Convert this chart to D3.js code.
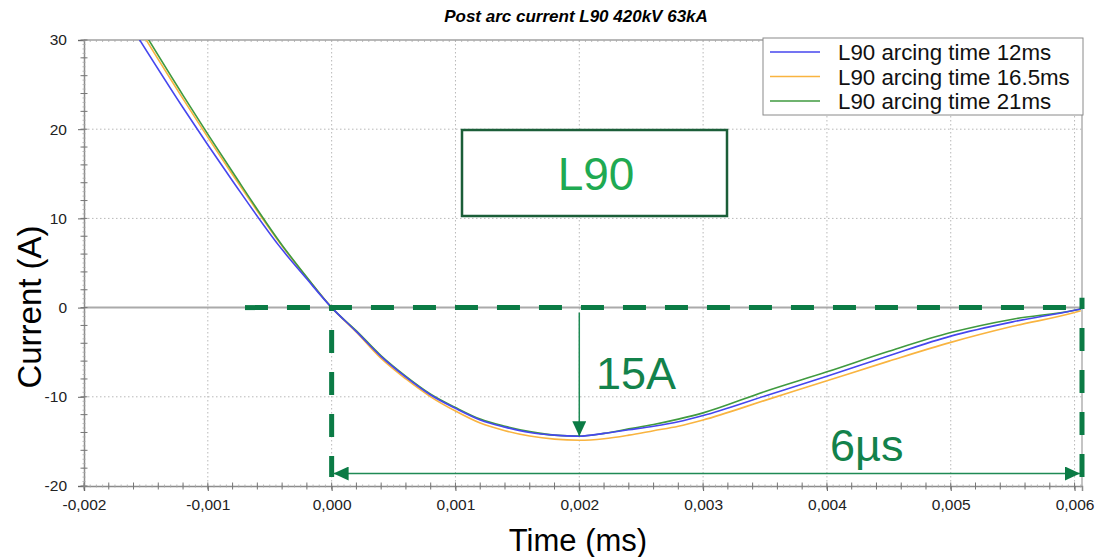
<!DOCTYPE html>
<html>
<head>
<meta charset="utf-8">
<script src="https://cdnjs.cloudflare.com/ajax/libs/d3/7.8.5/d3.min.js"></script>
<style>
  body { margin: 0; background: #fff; }
  svg { font-family: "Liberation Sans", Arial, sans-serif; display: block; }
</style>
</head>
<body>
<div id="chart"></div>
<script>
// svg size
var svgWidth = 1098;
var svgHeight = 557;

var margin = { top: 40, right: 16, bottom: 71, left: 84 };
var width = svgWidth - margin.left - margin.right;
var height = svgHeight - margin.top - margin.bottom;

// data
var timeMs = [-0.0016, -0.0012, -0.0008, -0.0004, -0.0002, 0, 0.0002, 0.0004, 0.0006, 0.0008,
  0.001, 0.0012, 0.0014, 0.0016, 0.0018, 0.002, 0.0022, 0.0024, 0.0026, 0.0028,
  0.003, 0.0035, 0.004, 0.0045, 0.005, 0.0055, 0.006, 0.00605];
var arc12 = [31.1, 22.4, 14.2, 6.5, 3.2, 0, -2.7, -5.5, -7.8, -9.8,
  -11.3, -12.6, -13.4, -14.0, -14.3, -14.42, -14.1, -13.7, -13.3, -12.8,
  -12.1, -9.9, -7.7, -5.4, -3.2, -1.6, -0.3, -0.15];
var arc165 = [32.3, 23.4, 14.9, 6.9, 3.35, 0, -2.75, -5.7, -8.0, -10.0,
  -11.6, -12.95, -13.8, -14.4, -14.75, -14.87, -14.7, -14.3, -13.8, -13.3,
  -12.6, -10.4, -8.2, -6.0, -3.9, -2.1, -0.55, -0.35];
var arc21 = [32.8, 23.8, 15.2, 7.0, 3.4, 0, -2.6, -5.4, -7.7, -9.7,
  -11.2, -12.5, -13.3, -13.9, -14.3, -14.4, -14.1, -13.6, -13.1, -12.5,
  -11.8, -9.4, -7.2, -4.9, -2.8, -1.3, -0.3, -0.15];

var seriesNames = ["L90 arcing time 12ms", "L90 arcing time 16.5ms", "L90 arcing time 21ms"];
var seriesColors = ["#4646ee", "#f9b440", "#3f9a3f"];

var xTicks = [-0.002, -0.001, 0, 0.001, 0.002, 0.003, 0.004, 0.005, 0.006];
var yTicks = [-20, -10, 0, 10, 20, 30];

// annotation values
var zeroStart = -0.0007;    // start of horizontal dashed line
var windowEnd = 0.00606;    // end of current zero window
var peakTime = 0.002;
var peakValue = -14.42;
var arrowLevel = -18.6;
var dashBottom = -19;

var svg = d3.select("#chart")
  .append("svg")
  .attr("width", svgWidth)
  .attr("height", svgHeight);

var chartGroup = svg.append("g")
  .attr("transform", `translate(${margin.left}, ${margin.top})`);

var xScale = d3.scaleLinear().domain([-0.002, 0.00606]).range([0, width]);
var yScale = d3.scaleLinear().domain([-20, 30]).range([height, 0]);

var fmt = d => d.toFixed(3).replace(".", ",");

chartGroup.append("defs").append("clipPath").attr("id", "plotClip")
  .append("rect").attr("width", width).attr("height", height);

// dotted grid
chartGroup.append("g").selectAll("line")
  .data(xTicks.slice(1))
  .enter().append("line")
  .attr("x1", d => xScale(d)).attr("x2", d => xScale(d))
  .attr("y1", 0).attr("y2", height)
  .attr("stroke", "#b8b8b8").attr("stroke-dasharray", "1.5,2.5");
chartGroup.append("g").selectAll("line")
  .data(yTicks.filter(d => d !== 0 && d !== -20 && d !== 30))
  .enter().append("line")
  .attr("x1", 0).attr("x2", width)
  .attr("y1", d => yScale(d)).attr("y2", d => yScale(d))
  .attr("stroke", "#b8b8b8").attr("stroke-dasharray", "1.5,2.5");

// zero line
chartGroup.append("line")
  .attr("x1", 0).attr("x2", width)
  .attr("y1", yScale(0)).attr("y2", yScale(0))
  .attr("stroke", "#aaaaaa").attr("stroke-width", 2);

// frame lines
chartGroup.append("line").attr("x1", 0).attr("x2", width).attr("y1", 0).attr("y2", 0)
  .attr("stroke", "#a0a0a0").attr("stroke-width", 1.5);
chartGroup.append("line").attr("x1", width).attr("x2", width).attr("y1", 0).attr("y2", height)
  .attr("stroke", "#b0b0b0").attr("stroke-width", 1.5);

// axes
var bottomAxis = d3.axisBottom(xScale).tickValues(xTicks).tickFormat(fmt).tickSize(5).tickPadding(8);
var leftAxis = d3.axisLeft(yScale).tickValues(yTicks).tickFormat(d => String(d)).tickSize(6).tickPadding(11);

var xAxisG = chartGroup.append("g")
  .attr("transform", `translate(0, ${height})`)
  .call(bottomAxis);
var yAxisG = chartGroup.append("g").call(leftAxis);

[xAxisG, yAxisG].forEach(function(g) {
  g.select(".domain").attr("stroke", "#8c8c8c").attr("stroke-width", 1.5);
  g.selectAll(".tick line").attr("stroke", "#666");
  g.selectAll(".tick text").attr("fill", "#222");
});
xAxisG.selectAll(".tick text").style("font-size", "15.5px");
yAxisG.selectAll(".tick text").style("font-size", "15.5px");

// minor ticks
var xMinor = d3.range(-0.002, 0.00607, 0.0002);
var xFine = d3.range(-0.002, 0.00607, 0.00005);
var yMinor = d3.range(-20, 30.01, 2);
var yFine = d3.range(-20, 30.01, 0.5);

chartGroup.append("g").selectAll("line").data(xFine).enter().append("line")
  .attr("x1", d => xScale(d)).attr("x2", d => xScale(d))
  .attr("y1", height - 1.5).attr("y2", height + 1.5)
  .attr("stroke", "#aaa").attr("stroke-width", 0.8);
chartGroup.append("g").selectAll("line").data(xMinor).enter().append("line")
  .attr("x1", d => xScale(d)).attr("x2", d => xScale(d))
  .attr("y1", height - 3.5).attr("y2", height + 3.5)
  .attr("stroke", "#777");
chartGroup.append("g").selectAll("line").data(xFine).enter().append("line")
  .attr("x1", d => xScale(d)).attr("x2", d => xScale(d))
  .attr("y1", 0).attr("y2", 2)
  .attr("stroke", "#aaa").attr("stroke-width", 0.8);
chartGroup.append("g").selectAll("line").data(yFine).enter().append("line")
  .attr("y1", d => yScale(d)).attr("y2", d => yScale(d))
  .attr("x1", -1.5).attr("x2", 1.5)
  .attr("stroke", "#aaa").attr("stroke-width", 0.8);
chartGroup.append("g").selectAll("line").data(yMinor).enter().append("line")
  .attr("y1", d => yScale(d)).attr("y2", d => yScale(d))
  .attr("x1", -3.5).attr("x2", 3.5)
  .attr("stroke", "#777");

// L90 box
chartGroup.append("rect")
  .attr("x", 378).attr("y", 90)
  .attr("width", 265).attr("height", 86)
  .attr("fill", "#fff")
  .attr("stroke", "#1b5e38").attr("stroke-width", 2.5);
chartGroup.append("text")
  .attr("x", 512).attr("y", 150)
  .attr("text-anchor", "middle")
  .style("font-size", "46px")
  .attr("fill", "#1faa52")
  .text("L90");

// curves
var allSeries = [arc12, arc165, arc21];
var line = d3.line()
  .x((d, i) => xScale(timeMs[i]))
  .y(d => yScale(d))
  .curve(d3.curveMonotoneX);

var drawOrder = [1, 2, 0];
chartGroup.append("g").attr("clip-path", "url(#plotClip)")
  .selectAll("path")
  .data(drawOrder)
  .enter().append("path")
  .attr("d", k => line(allSeries[k]))
  .attr("fill", "none")
  .attr("stroke", k => seriesColors[k])
  .attr("stroke-width", 1.6);

// annotations
var annoGreen = "#0b7b45";
var dashGroup = chartGroup.append("g")
  .attr("stroke", annoGreen).attr("stroke-width", 5)
  .attr("stroke-dasharray", "23,19").attr("fill", "none");
dashGroup.append("line")
  .attr("x1", xScale(zeroStart)).attr("x2", xScale(windowEnd))
  .attr("y1", yScale(0)).attr("y2", yScale(0));
dashGroup.append("line")
  .attr("x1", xScale(0)).attr("x2", xScale(0))
  .attr("y1", yScale(dashBottom)).attr("y2", yScale(0) + 2)
  .attr("stroke-dashoffset", 2);
dashGroup.append("line")
  .attr("x1", xScale(windowEnd)).attr("x2", xScale(windowEnd))
  .attr("y1", yScale(dashBottom)).attr("y2", yScale(1.1));

var defs = svg.append("defs");
defs.append("marker").attr("id", "arrowBig")
  .attr("viewBox", "0 0 10 10").attr("refX", 10).attr("refY", 5)
  .attr("markerWidth", 15).attr("markerHeight", 14)
  .attr("markerUnits", "userSpaceOnUse").attr("orient", "auto-start-reverse")
  .attr("preserveAspectRatio", "none")
  .append("path").attr("d", "M0,0 L10,5 L0,10 Z").attr("fill", annoGreen);

// vertical peak arrow
chartGroup.append("line")
  .attr("x1", xScale(peakTime)).attr("x2", xScale(peakTime))
  .attr("y1", yScale(0) + 5).attr("y2", yScale(peakValue))
  .attr("stroke", "#1f8a55").attr("stroke-width", 1.5)
  .attr("marker-end", "url(#arrowBig)");

// double arrow
chartGroup.append("line")
  .attr("x1", xScale(0) + 2).attr("x2", xScale(windowEnd) - 2)
  .attr("y1", yScale(arrowLevel)).attr("y2", yScale(arrowLevel))
  .attr("stroke", "#1f8a55").attr("stroke-width", 1.5)
  .attr("marker-start", "url(#arrowBig)").attr("marker-end", "url(#arrowBig)");

chartGroup.append("text")
  .attr("x", 512).attr("y", 349)
  .style("font-size", "45px")
  .attr("fill", "#13824b")
  .text("15A");
chartGroup.append("text")
  .attr("x", 746).attr("y", 421)
  .style("font-size", "45px")
  .attr("fill", "#13824b")
  .text("6µs");

// legend
var legend = chartGroup.append("g").attr("transform", "translate(679, -2)");
legend.append("rect")
  .attr("width", 320).attr("height", 77)
  .attr("fill", "#fff").attr("stroke", "#8a8a8a");
var items = legend.selectAll("g.item")
  .data(seriesNames)
  .enter().append("g")
  .attr("transform", (d, i) => `translate(0, ${14 + i * 24.5})`);
items.append("line")
  .attr("x1", 7).attr("x2", 57)
  .attr("stroke", (d, i) => seriesColors[i]).attr("stroke-width", 1.6);
items.append("text")
  .attr("x", 75).attr("y", 8)
  .style("font-size", "22.3px")
  .attr("fill", "#111")
  .text(d => d);

// title and axis labels
svg.append("text")
  .attr("x", 576).attr("y", 22)
  .attr("text-anchor", "middle")
  .style("font-size", "17px").style("font-weight", "bold").style("font-style", "italic")
  .text("Post arc current L90 420kV 63kA");

svg.append("text")
  .attr("transform", "rotate(-90)")
  .attr("x", -307).attr("y", 41)
  .attr("text-anchor", "middle")
  .style("font-size", "33px")
  .text("Current (A)");

svg.append("text")
  .attr("x", 578).attr("y", 551)
  .attr("text-anchor", "middle")
  .style("font-size", "31px")
  .text("Time (ms)");
</script>
</body>
</html>
